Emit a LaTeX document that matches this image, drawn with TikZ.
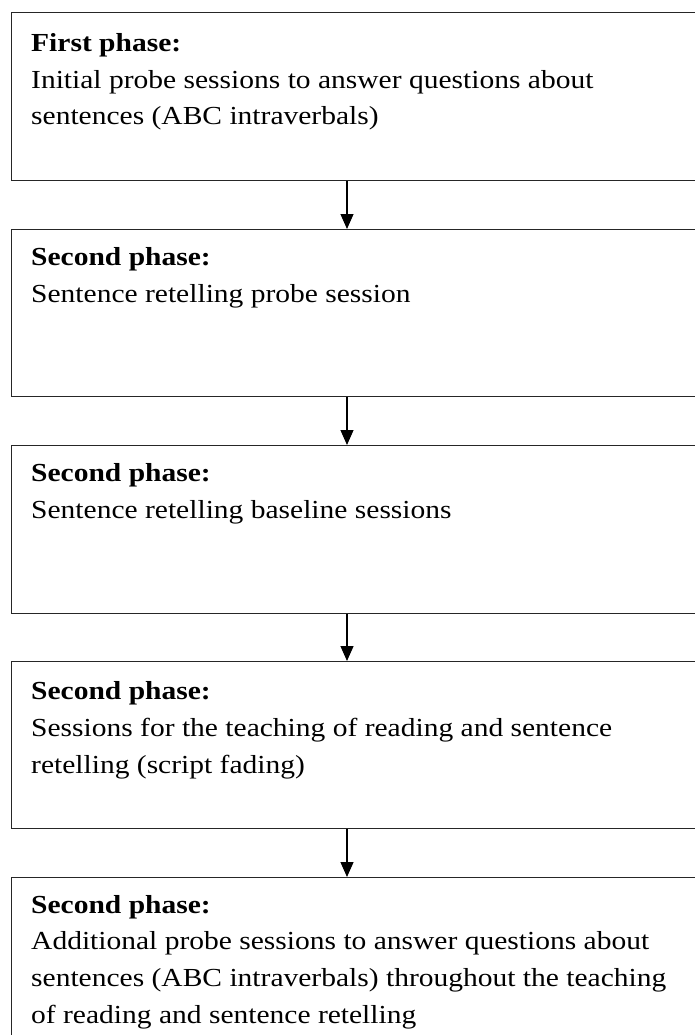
\documentclass[tikz,border=0pt]{standalone}
\usepackage{fontspec}
\setmainfont{Liberation Serif}[FakeStretch=1.135]
\usetikzlibrary{arrows.meta}
\tikzset{
  phasebox/.style={draw=black!85, line width=1.2pt, rectangle, anchor=north west, minimum width=720pt, inner sep=0pt},
  phasetext/.style={anchor=base west, align=left, inner sep=0pt, font=\fontsize{26pt}{36.6pt}\selectfont},
  flow/.style={draw=black, line width=1.2pt, -{Triangle[length=15pt,width=13pt]}}
}
\begin{document}
\begin{tikzpicture}[x=1pt,y=-1pt]
\useasboundingbox (0,0) rectangle (695,1035);
\clip (0,0) rectangle (695,1035);
\node[phasebox, minimum height=168pt] (b1) at (11,12) {};
\node[phasebox, minimum height=167pt] (b2) at (11,229) {};
\node[phasebox, minimum height=168pt] (b3) at (11,445) {};
\node[phasebox, minimum height=167pt] (b4) at (11,661) {};
\node[phasebox, minimum height=200pt] (b5) at (11,877) {};
% base anchor = baseline of the last line
\node[phasetext] (t1) at (31,125) {\textbf{First phase:}\\Initial probe sessions to answer questions about\\sentences (ABC intraverbals)};
\node[phasetext] (t2) at (31,302) {\textbf{Second phase:}\\Sentence retelling probe session};
\node[phasetext] (t3) at (31,518) {\textbf{Second phase:}\\Sentence retelling baseline sessions};
\node[phasetext] (t4) at (31,773) {\textbf{Second phase:}\\Sessions for the teaching of reading and sentence\\retelling (script fading)};
\node[phasetext] (t5) at (31,1023) {\textbf{Second phase:}\\Additional probe sessions to answer questions about\\sentences (ABC intraverbals) throughout the teaching\\of reading and sentence retelling};
\coordinate (ax) at (347,0);
\draw[flow] (b1.south -| ax) -- (b2.north -| ax);
\draw[flow] (b2.south -| ax) -- (b3.north -| ax);
\draw[flow] (b3.south -| ax) -- (b4.north -| ax);
\draw[flow] (b4.south -| ax) -- (b5.north -| ax);
\end{tikzpicture}
\end{document}
